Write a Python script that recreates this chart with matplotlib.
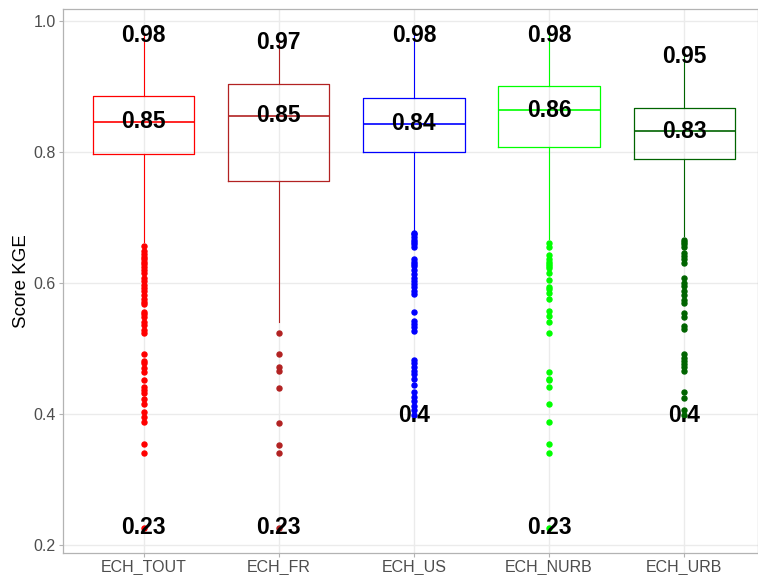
import numpy as np
import matplotlib.pyplot as plt

groups = ["ECH_TOUT", "ECH_FR", "ECH_US", "ECH_NURB", "ECH_URB"]
colors = ["#FF0000", "#B22222", "#0000FF", "#00FF00", "#006400"]

q1 = [0.796, 0.755, 0.800, 0.807, 0.789]
med = [0.846, 0.855, 0.843, 0.863, 0.831]
q3 = [0.885, 0.903, 0.882, 0.901, 0.867]
whis_lo = [0.663, 0.541, 0.680, 0.667, 0.672]
whis_hi = [0.978, 0.966, 0.978, 0.978, 0.946]

out_tout = [0.656, 0.648, 0.644, 0.640, 0.636, 0.632, 0.628, 0.624, 0.620, 0.615,
            0.607, 0.603, 0.597, 0.592, 0.587, 0.581, 0.576, 0.571, 0.567, 0.556,
            0.552, 0.548, 0.541, 0.536, 0.528, 0.523, 0.491, 0.481, 0.477, 0.470,
            0.464, 0.452, 0.441, 0.437, 0.432, 0.423, 0.415, 0.403, 0.396, 0.387,
            0.354, 0.341, 0.226]
out_fr = [0.523, 0.491, 0.471, 0.465, 0.440, 0.386, 0.353, 0.341, 0.226]
out_us = [0.676, 0.674, 0.670, 0.666, 0.663, 0.659, 0.655, 0.636, 0.632, 0.629,
          0.625, 0.620, 0.614, 0.608, 0.603, 0.598, 0.594, 0.588, 0.583, 0.556,
          0.542, 0.537, 0.532, 0.527, 0.482, 0.478, 0.472, 0.466, 0.461, 0.453,
          0.444, 0.434, 0.426, 0.419, 0.412, 0.406, 0.398]
out_nurb = [0.661, 0.655, 0.643, 0.636, 0.632, 0.629, 0.625, 0.622, 0.615, 0.605,
            0.594, 0.590, 0.584, 0.575, 0.557, 0.549, 0.541, 0.523, 0.464, 0.453,
            0.451, 0.441, 0.415, 0.387, 0.354, 0.341, 0.226]
out_urb = [0.666, 0.663, 0.659, 0.655, 0.646, 0.641, 0.636, 0.631, 0.607, 0.599,
           0.595, 0.587, 0.581, 0.574, 0.569, 0.554, 0.548, 0.534, 0.529, 0.491,
           0.486, 0.481, 0.476, 0.471, 0.466, 0.434, 0.424, 0.406, 0.398]
outliers = [out_tout, out_fr, out_us, out_nurb, out_urb]

yticks = [0.2, 0.4, 0.6, 0.8, 1.0]


def lab(v):
    return f"{round(v, 2):g}"


plt.rcParams["font.family"] = ["Liberation Sans", "DejaVu Sans"]

fig = plt.figure(figsize=(7.58, 5.75), dpi=100)
ax = fig.add_axes([62.5 / 758, 21.7 / 575, (758 - 62.5) / 758, 544 / 575])

stats = []
for i in range(len(groups)):
    stats.append({"med": med[i], "q1": q1[i], "q3": q3[i],
                  "whislo": whis_lo[i], "whishi": whis_hi[i],
                  "fliers": outliers[i]})

pos = np.arange(1, len(groups) + 1)
bp = ax.bxp(stats, positions=pos, widths=0.75, showcaps=False,
            manage_ticks=False)

for i, c in enumerate(colors):
    bp["boxes"][i].set(color=c, linewidth=0.9, zorder=3)
    bp["medians"][i].set(color=c, linewidth=1.2, zorder=3)
    for w in bp["whiskers"][2 * i:2 * i + 2]:
        w.set(color=c, linewidth=0.8, zorder=3)
    bp["fliers"][i].set(marker="o", markerfacecolor=c, markeredgecolor=c,
                        markersize=3.6, zorder=3)

    lo = min(outliers[i] + [whis_lo[i]])
    for v in (whis_hi[i], med[i], lo):
        ax.text(pos[i], v, lab(v), ha="center", va="center", fontsize=16.5,
                fontweight="bold", color="black", zorder=5)

ax.set_xlim(0.4, 5.5455)
ax.set_ylim(0.1873, 1.0174)
ax.set_xticks(pos)
ax.set_xticklabels(groups)
ax.set_yticks(yticks)
ax.set_yticklabels([f"{t:.1f}" for t in yticks])

ax.grid(True, color="#EBEBEB", linewidth=1.0, zorder=0)
ax.set_axisbelow(True)
for s in ax.spines.values():
    s.set_color("#B3B3B3")
    s.set_linewidth(0.9)
ax.tick_params(colors="#B3B3B3", labelcolor="#4D4D4D", labelsize=11.5,
               length=3, pad=2)
ax.set_ylabel("Score KGE", fontsize=13.5, color="black", labelpad=2)

fig.savefig("out.png", dpi=100)
